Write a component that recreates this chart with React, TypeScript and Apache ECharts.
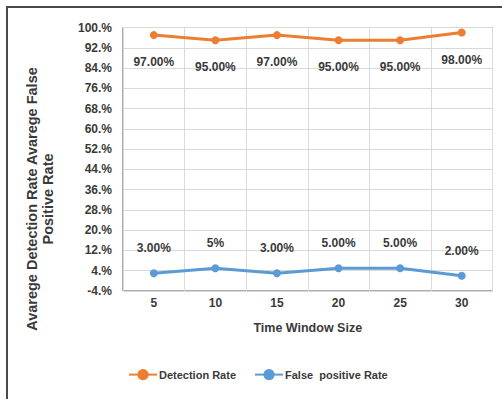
import React, { useEffect, useRef } from "react";
import * as echarts from "echarts";

const windowSizes = ["5", "10", "15", "20", "25", "30"];
const detectionRate = [97, 95, 97, 95, 95, 98];
const detectionLabels = ["97.00%", "95.00%", "97.00%", "95.00%", "95.00%", "98.00%"];
const falsePositiveRate = [3, 5, 3, 5, 5, 2];
const falsePositiveLabels = ["3.00%", "5%", "3.00%", "5.00%", "5.00%", "2.00%"];

const FONT = "'Liberation Sans', Arial, sans-serif";
const TEXT = "#3a3a3a";

export default function App() {
  const ref = useRef<HTMLDivElement>(null);

  useEffect(() => {
    if (!ref.current) return;
    const chart = echarts.init(ref.current, null, { renderer: "svg" });
    chart.setOption({
      animation: false,
      backgroundColor: "#ffffff",
      textStyle: { fontFamily: FONT },
      grid: {
        left: 123,
        top: 27.5,
        right: 9.5,
        bottom: 108,
        show: true,
        borderColor: "#595959",
        borderWidth: 1,
      },
      xAxis: {
        type: "category",
        data: windowSizes,
        boundaryGap: true,
        axisLine: { show: false },
        axisTick: { show: false },
        splitLine: { show: true, lineStyle: { color: "#d9d9d9", width: 1 } },
        axisLabel: { color: TEXT, fontWeight: "bold", fontSize: 12, fontFamily: FONT, margin: 6 },
        name: "Time Window Size",
        nameLocation: "middle",
        nameGap: 30,
        nameTextStyle: { color: TEXT, fontWeight: "bold", fontSize: 12.5, fontFamily: FONT },
      },
      yAxis: {
        type: "value",
        min: -4,
        max: 100,
        interval: 8,
        axisLine: { show: false },
        axisTick: { show: false },
        splitLine: { show: true, lineStyle: { color: "#d9d9d9", width: 1 } },
        axisLabel: {
          color: TEXT,
          fontWeight: "bold",
          fontSize: 12,
          fontFamily: FONT,
          margin: 11,
          formatter: (v: number) => `${v}.%`,
        },
      },
      legend: {
        left: 123,
        top: 364,
        itemWidth: 28,
        itemHeight: 14,
        itemGap: 18,
        textStyle: { color: TEXT, fontWeight: "bold", fontSize: 11, fontFamily: FONT, padding: [0, 0, 0, -3] },
        data: ["Detection Rate", "False  positive Rate"],
      },
      graphic: [
        {
          type: "rect",
          shape: { x: 7, y: 7, width: 520, height: 420 },
          style: { fill: "none", stroke: "#4a4a4a", lineWidth: 2 },
          silent: true,
        },
        {
          type: "text",
          x: 40,
          y: 199,
          rotation: Math.PI / 2,
          style: {
            text: "Avarege Detection Rate Avarege False\nPositive Rate",
            fill: TEXT,
            font: `bold 14.5px ${FONT}`,
            align: "center",
            verticalAlign: "middle",
            lineHeight: 16,
          },
        },
      ],
      series: [
        {
          name: "Detection Rate",
          type: "line",
          data: detectionRate,
          symbol: "circle",
          symbolSize: 8,
          color: "#ED7D31",
          lineStyle: { width: 3, color: "#ED7D31" },
          label: {
            show: true,
            position: "bottom",
            distance: 17,
            color: TEXT,
            fontWeight: "bold",
            fontSize: 12,
            fontFamily: FONT,
            formatter: (p: any) => detectionLabels[p.dataIndex],
          },
        },
        {
          name: "False  positive Rate",
          type: "line",
          data: falsePositiveRate,
          symbol: "circle",
          symbolSize: 8,
          color: "#5B9BD5",
          lineStyle: { width: 3, color: "#5B9BD5" },
          label: {
            show: true,
            position: "top",
            distance: 15,
            color: TEXT,
            fontWeight: "bold",
            fontSize: 12,
            fontFamily: FONT,
            formatter: (p: any) => falsePositiveLabels[p.dataIndex],
          },
        },
      ],
    });
    return () => chart.dispose();
  }, []);

  return (
    <div
      ref={ref}
      style={{ position: "fixed", left: 0, top: 0, width: 502, height: 399 }}
    />
  );
}
